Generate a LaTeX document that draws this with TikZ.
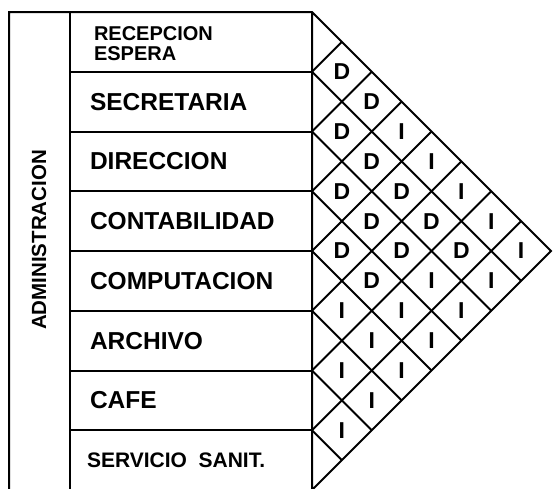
\documentclass[tikz,border=0pt]{standalone}
\usepackage{fontspec}
\setmainfont{Liberation Sans}
\usetikzlibrary{positioning,calc}

\newcommand{\rowh}{59.75}

\begin{document}
\begin{tikzpicture}[x=1pt,y=-1pt,line width=2pt,
  every node/.style={inner sep=0pt},
  roomlabel/.style={anchor=west,font=\bfseries\fontsize{24.5}{24.5}\selectfont},
  relmark/.style={font=\bfseries\fontsize{23}{23}\selectfont}]
  \useasboundingbox (0,0) rectangle (554,488);
  % frame
  \coordinate (TL) at (9,12);
  \coordinate (TM) at (70,12);
  \coordinate (TR) at (312,12);
  \coordinate (BR) at (312,490);
  \coordinate (apex) at (551,251);
  \draw (9,490) -- (TL) -- (TR) -- (apex) -- (BR) -- (TR);
  \draw (TM) -- (70,490);
  % row lines and diagonals
  \foreach \k in {1,...,7}{
    \coordinate (P\k) at ($(TR)+(0,\k*\rowh)$);
    \draw (70,{12+\k*\rowh}) -- (P\k);
    \draw (P\k) -- ++({\k*\rowh/2},{-\k*\rowh/2});
    \draw (P\k) -- ++({(8-\k)*\rowh/2},{(8-\k)*\rowh/2});
  }
  % rooms
  \node[roomlabel,font=\bfseries\fontsize{20}{20}\selectfont,align=left] (r0) at (93,44) {RECEPCION\\ESPERA};
  \foreach \k/\txt in {1/SECRETARIA,2/DIRECCION,3/CONTABILIDAD,4/COMPUTACION,5/ARCHIVO,6/CAFE}{
    \node[roomlabel] (r\k) at (89,{12+(\k+0.5)*\rowh}) {\txt};
  }
  \node[roomlabel,font=\bfseries\fontsize{21}{21}\selectfont] (r7) at (86,{12+7.5*\rowh}) {SERVICIO\ \ SANIT.};
  \node[rotate=90,font=\bfseries\fontsize{20.5}{20.5}\selectfont] (adm) at (39,240) {ADMINISTRACION};
  % relation marks
  \foreach \i/\j/\t in {0/1/D,1/2/D,2/3/D,3/4/D,4/5/I,5/6/I,6/7/I,
    0/2/D,1/3/D,2/4/D,3/5/D,4/6/I,5/7/I,
    0/3/I,1/4/D,2/5/D,3/6/I,4/7/I,
    0/4/I,1/5/D,2/6/I,3/7/I,
    0/5/I,1/6/D,2/7/I,
    0/6/I,1/7/I,
    0/7/I}{
    \node[relmark] (c\i\j) at ({312+(\j-\i)*\rowh/2},{12+(\i+\j+1)*\rowh/2}) {\t};
  }
\end{tikzpicture}
\end{document}
